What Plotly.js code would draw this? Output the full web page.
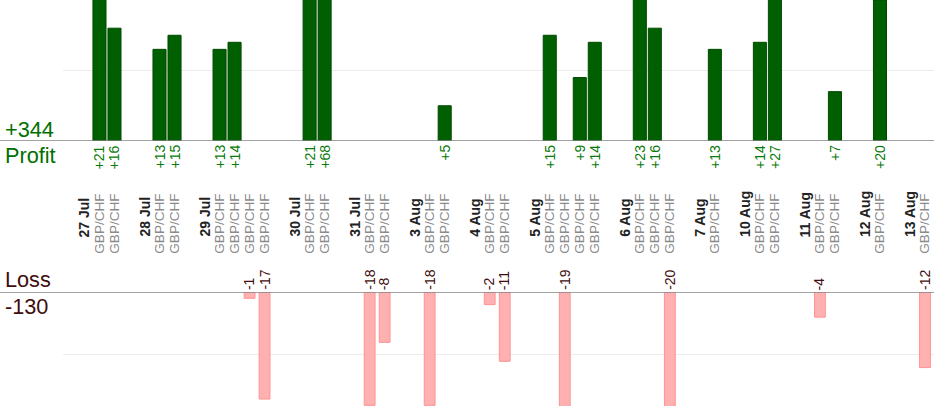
<!DOCTYPE html>
<html>
<head>
<meta charset="utf-8">
<script src="https://cdn.plot.ly/plotly-3.0.1.min.js"></script>
<style>
  html, body { margin: 0; padding: 0; background: #fff; }
  #chart { width: 934px; height: 420px; }
</style>
</head>
<body>
<div id="chart"></div>
<script>
// jours de cotation, nombre de trades par jour et paire tradée
const days = ['27 Jul', '28 Jul', '29 Jul', '30 Jul', '31 Jul', '3 Aug', '4 Aug',
              '5 Aug', '6 Aug', '7 Aug', '10 Aug', '11 Aug', '12 Aug', '13 Aug'];
const tradesPerDay = [2, 2, 4, 2, 2, 2, 2, 4, 3, 1, 2, 2, 1, 1];
const pair = 'GBP/CHF';
// résultat de chaque trade (pips), dans l'ordre des jours
const results = [21, 16,  13, 15,  13, 14, -1, -17,  21, 68,  -18, -8,  -18, 5,
                 -2, -11,  15, -19, 9, 14,  23, 16, -20,  13,  14, 27,  -4, 7,
                 20,  -12];

const FONT = 'Liberation Sans, Arial, sans-serif';
const GREEN = '#006f00';
const BROWN = '#3f0d0d';

/** construction des colonnes : une colonne date, une par trade, puis une vide */
let tickVals = [], tickText = [], dayX = [];
let winX = [], winY = [], lossX = [], lossY = [];
let slot = 0, t = 0;
days.forEach((d, i) => {
    dayX.push(slot);
    slot++;
    for (let j = 0; j < tradesPerDay[i]; j++) {
        const r = results[t++];
        tickVals.push(slot);
        tickText.push(pair);
        if (r > 0) { winX.push(slot); winY.push(r); }
        else { lossX.push(slot); lossY.push(r); }
        slot++;
    }
    slot++; // colonne vide entre deux jours
});

const profit = winY.reduce((a, b) => a + b, 0);
const loss = lossY.reduce((a, b) => a + b, 0);

var data = [
    {
        type: 'bar', x: winX, y: winY, yaxis: 'y', width: 0.87,
        marker: { color: '#005f00', line: { color: '#004a00', width: 1 } },
        hoverinfo: 'y', showlegend: false,
    },
    {
        type: 'bar', x: lossX, y: lossY, yaxis: 'y2', width: 0.72,
        marker: { color: '#ffb0b0', line: { color: '#ff9494', width: 1 } },
        hoverinfo: 'y', showlegend: false,
    },
];

// étiquettes des valeurs et des dates, tournées
var annotations = [];
winX.forEach((x, i) => {
    annotations.push({
        x: x, y: 0, xref: 'x', yref: 'y', text: '+' + winY[i],
        textangle: -90, yanchor: 'top', showarrow: false, yshift: -2,
        font: { family: FONT, size: 14, color: '#0a7a0a' },
    });
});
lossX.forEach((x, i) => {
    annotations.push({
        x: x, y: 0, xref: 'x', yref: 'y2', text: String(lossY[i]),
        textangle: -90, yanchor: 'bottom', showarrow: false, yshift: 0,
        font: { family: FONT, size: 14, color: BROWN },
    });
});
dayX.forEach((x, i) => {
    annotations.push({
        x: x, y: (406 - 239) / 406, xref: 'x', yref: 'paper', text: '<b>' + days[i] + '</b>',
        textangle: -90, yanchor: 'bottom', showarrow: false,
        font: { family: FONT, size: 14, color: '#222' },
    });
});
const leftX = -60 / 871;
annotations.push(
    { x: leftX, y: 0, xref: 'paper', yref: 'y', xanchor: 'left', yanchor: 'bottom', yshift: -3,
      text: '+' + profit, showarrow: false, font: { family: FONT, size: 21.7, color: GREEN } },
    { x: leftX, y: 0, xref: 'paper', yref: 'y', xanchor: 'left', yanchor: 'top',
      text: 'Profit', showarrow: false, font: { family: FONT, size: 21.7, color: GREEN } },
    { x: leftX, y: 0, xref: 'paper', yref: 'y2', xanchor: 'left', yanchor: 'bottom', yshift: -2,
      text: 'Loss', showarrow: false, font: { family: FONT, size: 21.7, color: BROWN } },
    { x: leftX, y: 0, xref: 'paper', yref: 'y2', xanchor: 'left', yanchor: 'top',
      text: String(loss), showarrow: false, font: { family: FONT, size: 21.7, color: BROWN } },
);

const yCommon = {
    showticklabels: false, ticks: '', zeroline: false, showline: false,
    gridcolor: '#ececec', dtick: 10, fixedrange: true,
};

var layout = {
    width: 934, height: 420,
    margin: { l: 63, r: 0, t: 0, b: 14, pad: 0 },
    paper_bgcolor: '#fff', plot_bgcolor: '#fff',
    barmode: 'overlay',
    font: { family: FONT },
    xaxis: {
        range: [-1.43, 56.6], tickmode: 'array', tickvals: tickVals, ticktext: tickText,
        tickangle: -90, side: 'top', anchor: 'free', position: 0.375,
        showgrid: false, zeroline: false, showline: false, ticks: '', fixedrange: true,
        tickfont: { family: FONT, size: 13.6, color: '#8a8a8a' },
    },
    yaxis: Object.assign({ domain: [0.6527, 1], range: [0, 20] }, yCommon),
    yaxis2: Object.assign({ domain: [0, 0.2808], range: [-18.1, 0] }, yCommon),
    shapes: [
        { type: 'line', xref: 'paper', yref: 'y', x0: -63 / 871, x1: 1, y0: 0, y1: 0,
          line: { color: '#858585', width: 1.5 } },
        { type: 'line', xref: 'paper', yref: 'y2', x0: -63 / 871, x1: 1, y0: 0, y1: 0,
          line: { color: '#858585', width: 1.5 } },
    ],
    annotations: annotations,
};

Plotly.newPlot('chart', data, layout, { displayModeBar: false, staticPlot: true });
</script>
</body>
</html>
